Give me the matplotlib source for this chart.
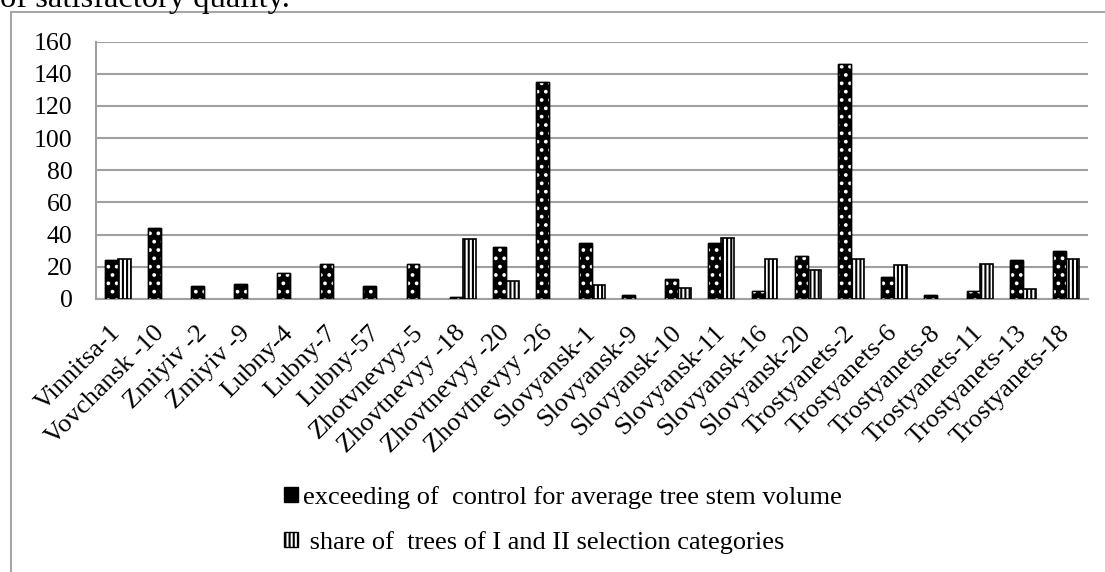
import matplotlib
matplotlib.use("Agg")
import matplotlib.pyplot as plt
import numpy as np
from matplotlib.patches import Rectangle, Patch

plt.rcParams['font.family'] = ['Liberation Serif', 'DejaVu Serif']
plt.rcParams['hatch.linewidth'] = 1.5

sites = ['Vinnitsa-1', 'Vovchansk -10', 'Zmiyiv -2', 'Zmiyiv -9', 'Lubny-4', 'Lubny-7',
         'Lubny-57', 'Zhotvnevyy-5', 'Zhovtnevyy -18', 'Zhovtnevyy -20', 'Zhovtnevyy -26',
         'Slovyansk-1', 'Slovyansk-9', 'Slovyansk-10', 'Slovyansk-11', 'Slovyansk-16',
         'Slovyansk-20', 'Trostyanets-2', 'Trostyanets-6', 'Trostyanets-8', 'Trostyanets-11',
         'Trostyanets-13', 'Trostyanets-18']
exceeding = [24, 44, 8, 9.5, 16, 22, 8, 22, 1.5, 32, 135, 35, 2.7, 12.5, 35, 5,
             27, 146, 13.5, 2.7, 5, 24, 30]
# nan = no bar shown for that site
share = [25, np.nan, np.nan, np.nan, np.nan, np.nan, np.nan, np.nan, 37, 11, np.nan,
         9, np.nan, 7, 38, 25, 18, 25, 21, np.nan, 22, 6, 25]
yticks = [0, 20, 40, 60, 80, 100, 120, 140, 160]

lbl1 = 'exceeding of  control for average tree stem volume'
lbl2 = ' share of  trees of I and II selection categories'

fig = plt.figure(figsize=(11.05, 5.72), dpi=100)
ax = fig.add_axes([0.0869, 0.4773, 0.8977, 0.4501])

# outer chart frame (like the Excel chart border), runs off right/bottom
fig.patches.append(Rectangle((11 / 1105, -0.1), 1.1, 1.1 - 12 / 572,
                             transform=fig.transFigure, fill=False,
                             edgecolor='#a6a6a6', lw=1.5))
fig.text(0.0, 1 - 7 / 572, 'of satisfactory quality.', fontsize=23.4,
         ha='left', va='baseline')

x = np.arange(len(sites))
w = 0.3
# black bars with white dots
ax.bar(x - w / 2, exceeding, w, color='black', edgecolor='black', lw=1, zorder=3)
ax.bar(x - w / 2, exceeding, w, facecolor='none', edgecolor='white', hatch='..',
       lw=0, zorder=4)
ax.bar(x - w / 2, exceeding, w, facecolor='none', edgecolor='black', lw=1, zorder=5)
# white bars with vertical black stripes
ax.bar(x + w / 2, share, w, color='white', edgecolor='black', hatch='||||',
       lw=1.2, zorder=3)

ax.set_ylim(0, 160)
ax.set_xlim(-0.5, len(sites) - 0.5)
ax.set_yticks(yticks)
ax.yaxis.grid(True, color='#a0a0a0', lw=1.5, zorder=0)
ax.set_axisbelow(True)
for s in ['top', 'right']:
    ax.spines[s].set_visible(False)
ax.spines['left'].set_color('#a0a0a0')
ax.spines['bottom'].set_color('#a0a0a0')
ax.spines['left'].set_linewidth(1.5)
ax.spines['bottom'].set_linewidth(1.5)
ax.tick_params(axis='both', length=0)
ax.tick_params(axis='y', pad=17, labelsize=18.5)
ax.set_xticks(x)
ax.set_xticklabels(sites, rotation=45, ha='right', va='center',
                   rotation_mode='anchor', fontsize=19)
ax.tick_params(axis='x', pad=22)

h1 = Patch(facecolor='black', edgecolor='black', hatch='..')
h2 = Patch(facecolor='white', edgecolor='black', hatch='||||')
leg = fig.legend([h1, h2], [lbl1, lbl2], loc='upper left',
                 bbox_to_anchor=(284 / 1105, 1 - 486 / 572), frameon=False,
                 fontsize=19, handlelength=0.53, handleheight=0.5,
                 handletextpad=0.19, labelspacing=0.83, borderpad=0, borderaxespad=0)

fig.savefig('out.png', dpi=100)
